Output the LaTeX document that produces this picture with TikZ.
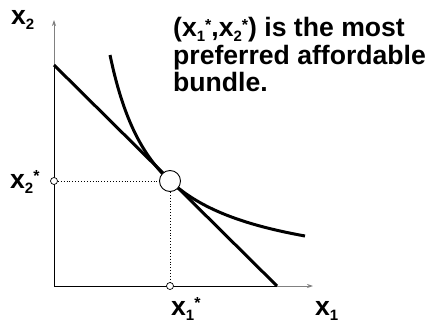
\documentclass[tikz,border=0pt]{standalone}
\usepackage{fontspec}
\setmainfont{Liberation Sans}
\usetikzlibrary{arrows.meta}
\newcommand\lowsub[1]{\smash{\raisebox{-5pt}{\fontsize{15}{15}\selectfont #1}}}
\newcommand\highstar{\smash{\raisebox{6.5pt}{\fontsize{16}{16}\selectfont *}}}
\begin{document}
\begin{tikzpicture}[x=1pt,y=1pt,
  lbl/.style={font=\fontsize{26.6}{27.5}\selectfont\bfseries, inner sep=0pt, anchor=base west},
  axisgray/.style={draw=gray, line width=0.8pt, -{Stealth[length=6pt,width=4pt]}},
  thick line/.style={line width=3pt, black},
  guide/.style={dotted, line width=0.9pt},
  smallpt/.style={circle, draw, fill=white, line width=0.7pt, minimum size=7pt, inner sep=0pt},
  bigpt/.style={circle, draw, fill=white, line width=0.9pt, minimum size=21pt, inner sep=0pt}]
\useasboundingbox (0,0) rectangle (431,327);
\coordinate (O) at (54,41);
\coordinate (ytop) at (54,307);
\coordinate (xend) at (313,41);
\coordinate (A) at (54,262);
\coordinate (B) at (277,41);
\draw[axisgray] (O) -- (ytop);
\draw[axisgray] (O) -- (xend);
\draw[line width=0.9pt] (A) -- (O) -- (B);
\draw[thick line] (A) -- (B);
\draw[thick line, domain=110:305, samples=60, smooth] plot (\x, {47.43 + 10541/(\x-63.06)});
\node[bigpt] (C) at (170,146) {};
\node[smallpt] (P2) at (54,146) {};
\node[smallpt] (P1) at (170,41) {};
\draw[guide] (P2) -- (C);
\draw[guide] (C) -- (P1);
\node[lbl] (lx2) at (11,302) {x\lowsub{2}};
\node[lbl] (lx2s) at (10,139) {x\lowsub{2}\highstar};
\node[lbl] (lx1s) at (171,12) {x\lowsub{1}\highstar};
\node[lbl] (lx1) at (315,12) {x\lowsub{1}};
\node[lbl, anchor=north west, align=left] (txt) at (173,309.5)
  {(x\lowsub{1}\highstar,x\lowsub{2}\highstar) is the most\\preferred affordable\\bundle.};
\end{tikzpicture}
\end{document}
